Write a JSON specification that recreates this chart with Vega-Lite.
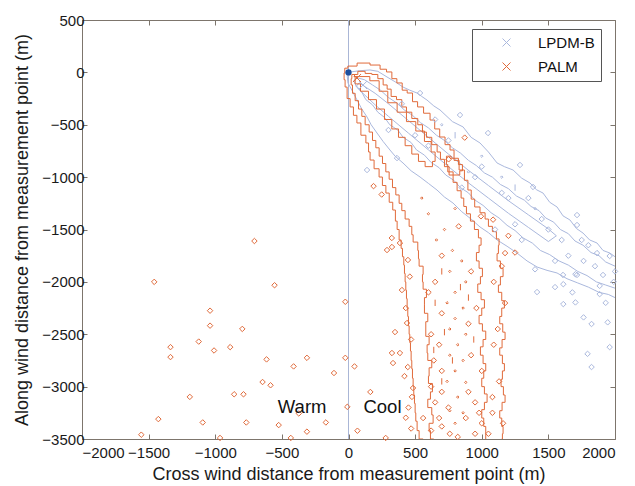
{
  "$schema": "https://vega.github.io/schema/vega-lite/v6.json",
  "width": 533,
  "height": 419,
  "autosize": {"type": "none"},
  "padding": {"left": 82, "top": 20, "right": 20, "bottom": 47},
  "background": "white",
  "config": {
    "font": "Liberation Sans",
    "view": {"stroke": "#7d756c", "strokeWidth": 1},
    "axis": {
      "grid": false,
      "domain": false,
      "tickColor": "#7d756c",
      "tickSize": -5,
      "labelFont": "Liberation Sans",
      "labelFontSize": 15,
      "labelColor": "#1a1a1a",
      "titleFont": "Liberation Sans",
      "titleFontSize": 18,
      "titleFontWeight": "normal",
      "titleColor": "#1a1a1a",
      "format": "d"
    }
  },
  "datasets": {
    "contours": [
      {"model":"PALM","id":"p1","x":560,"y":-3500},{"model":"PALM","id":"p1","x":500,"y":-3420},{"model":"PALM","id":"p1","x":530,"y":-3330},{"model":"PALM","id":"p1","x":480,"y":-3250},{"model":"PALM","id":"p1","x":520,"y":-3160},{"model":"PALM","id":"p1","x":470,"y":-3080},{"model":"PALM","id":"p1","x":510,"y":-3000},{"model":"PALM","id":"p1","x":460,"y":-2920},{"model":"PALM","id":"p1","x":500,"y":-2830},{"model":"PALM","id":"p1","x":450,"y":-2750},{"model":"PALM","id":"p1","x":490,"y":-2660},{"model":"PALM","id":"p1","x":440,"y":-2580},{"model":"PALM","id":"p1","x":480,"y":-2500},{"model":"PALM","id":"p1","x":430,"y":-2420},{"model":"PALM","id":"p1","x":470,"y":-2330},{"model":"PALM","id":"p1","x":420,"y":-2250},{"model":"PALM","id":"p1","x":460,"y":-2160},{"model":"PALM","id":"p1","x":410,"y":-2080},{"model":"PALM","id":"p1","x":450,"y":-2000},{"model":"PALM","id":"p1","x":400,"y":-1920},{"model":"PALM","id":"p1","x":440,"y":-1840},{"model":"PALM","id":"p1","x":390,"y":-1760},{"model":"PALM","id":"p1","x":420,"y":-1680},{"model":"PALM","id":"p1","x":370,"y":-1600},{"model":"PALM","id":"p1","x":390,"y":-1500},{"model":"PALM","id":"p1","x":340,"y":-1420},{"model":"PALM","id":"p1","x":364,"y":-1314},{"model":"PALM","id":"p1","x":300,"y":-1240},{"model":"PALM","id":"p1","x":311,"y":-1152},{"model":"PALM","id":"p1","x":250,"y":-1080},{"model":"PALM","id":"p1","x":259,"y":-999},{"model":"PALM","id":"p1","x":200,"y":-920},{"model":"PALM","id":"p1","x":184,"y":-837},{"model":"PALM","id":"p1","x":140,"y":-760},{"model":"PALM","id":"p1","x":161,"y":-674},{"model":"PALM","id":"p1","x":100,"y":-600},{"model":"PALM","id":"p1","x":86,"y":-483},{"model":"PALM","id":"p1","x":40,"y":-410},{"model":"PALM","id":"p1","x":34,"y":-330},{"model":"PALM","id":"p1","x":-10,"y":-250},{"model":"PALM","id":"p1","x":-11,"y":-140},{"model":"PALM","id":"p1","x":-40,"y":-70},{"model":"PALM","id":"p1","x":-26,"y":-6},{"model":"PALM","id":"p1","x":-30,"y":40},{"model":"PALM","id":"p1","x":20,"y":60},{"model":"PALM","id":"p1","x":109,"y":89},{"model":"PALM","id":"p1","x":214,"y":70},{"model":"PALM","id":"p1","x":260,"y":30},{"model":"PALM","id":"p1","x":311,"y":4},{"model":"PALM","id":"p1","x":340,"y":-60},{"model":"PALM","id":"p1","x":386,"y":-101},{"model":"PALM","id":"p1","x":420,"y":-170},{"model":"PALM","id":"p1","x":461,"y":-197},{"model":"PALM","id":"p1","x":500,"y":-280},{"model":"PALM","id":"p1","x":537,"y":-330},{"model":"PALM","id":"p1","x":590,"y":-390},{"model":"PALM","id":"p1","x":634,"y":-455},{"model":"PALM","id":"p1","x":660,"y":-540},{"model":"PALM","id":"p1","x":709,"y":-617},{"model":"PALM","id":"p1","x":740,"y":-690},{"model":"PALM","id":"p1","x":784,"y":-741},{"model":"PALM","id":"p1","x":800,"y":-840},{"model":"PALM","id":"p1","x":860,"y":-932},{"model":"PALM","id":"p1","x":880,"y":-1030},{"model":"PALM","id":"p1","x":912,"y":-1123},{"model":"PALM","id":"p1","x":930,"y":-1210},{"model":"PALM","id":"p1","x":964,"y":-1285},{"model":"PALM","id":"p1","x":1010,"y":-1340},{"model":"PALM","id":"p1","x":1040,"y":-1400},{"model":"PALM","id":"p1","x":1060,"y":-1470},{"model":"PALM","id":"p1","x":1100,"y":-1520},{"model":"PALM","id":"p1","x":1120,"y":-1590},{"model":"PALM","id":"p1","x":1140,"y":-1650},{"model":"PALM","id":"p1","x":1110,"y":-1730},{"model":"PALM","id":"p1","x":1120,"y":-1800},{"model":"PALM","id":"p1","x":1160,"y":-1870},{"model":"PALM","id":"p1","x":1160,"y":-1950},{"model":"PALM","id":"p1","x":1120,"y":-2030},{"model":"PALM","id":"p1","x":1130,"y":-2100},{"model":"PALM","id":"p1","x":1170,"y":-2180},{"model":"PALM","id":"p1","x":1170,"y":-2250},{"model":"PALM","id":"p1","x":1130,"y":-2330},{"model":"PALM","id":"p1","x":1140,"y":-2400},{"model":"PALM","id":"p1","x":1175,"y":-2480},{"model":"PALM","id":"p1","x":1175,"y":-2550},{"model":"PALM","id":"p1","x":1130,"y":-2630},{"model":"PALM","id":"p1","x":1140,"y":-2700},{"model":"PALM","id":"p1","x":1170,"y":-2780},{"model":"PALM","id":"p1","x":1170,"y":-2850},{"model":"PALM","id":"p1","x":1140,"y":-2930},{"model":"PALM","id":"p1","x":1150,"y":-3000},{"model":"PALM","id":"p1","x":1175,"y":-3080},{"model":"PALM","id":"p1","x":1175,"y":-3150},{"model":"PALM","id":"p1","x":1130,"y":-3230},{"model":"PALM","id":"p1","x":1140,"y":-3300},{"model":"PALM","id":"p1","x":1160,"y":-3380},{"model":"PALM","id":"p1","x":1160,"y":-3450},{"model":"PALM","id":"p1","x":1150,"y":-3500},

      {"model":"PALM","id":"p2","x":640,"y":-3500},{"model":"PALM","id":"p2","x":590,"y":-3420},{"model":"PALM","id":"p2","x":620,"y":-3350},{"model":"PALM","id":"p2","x":650,"y":-3270},{"model":"PALM","id":"p2","x":600,"y":-3200},{"model":"PALM","id":"p2","x":590,"y":-3120},{"model":"PALM","id":"p2","x":640,"y":-3050},{"model":"PALM","id":"p2","x":620,"y":-2970},{"model":"PALM","id":"p2","x":580,"y":-2900},{"model":"PALM","id":"p2","x":630,"y":-2820},{"model":"PALM","id":"p2","x":620,"y":-2750},{"model":"PALM","id":"p2","x":570,"y":-2680},{"model":"PALM","id":"p2","x":610,"y":-2600},{"model":"PALM","id":"p2","x":600,"y":-2520},{"model":"PALM","id":"p2","x":560,"y":-2450},{"model":"PALM","id":"p2","x":600,"y":-2380},{"model":"PALM","id":"p2","x":590,"y":-2300},{"model":"PALM","id":"p2","x":550,"y":-2220},{"model":"PALM","id":"p2","x":590,"y":-2150},{"model":"PALM","id":"p2","x":580,"y":-2070},{"model":"PALM","id":"p2","x":540,"y":-2000},{"model":"PALM","id":"p2","x":570,"y":-1930},{"model":"PALM","id":"p2","x":550,"y":-1850},{"model":"PALM","id":"p2","x":510,"y":-1780},{"model":"PALM","id":"p2","x":540,"y":-1700},{"model":"PALM","id":"p2","x":500,"y":-1620},{"model":"PALM","id":"p2","x":470,"y":-1550},{"model":"PALM","id":"p2","x":480,"y":-1470},{"model":"PALM","id":"p2","x":430,"y":-1400},{"model":"PALM","id":"p2","x":420,"y":-1320},{"model":"PALM","id":"p2","x":380,"y":-1250},{"model":"PALM","id":"p2","x":380,"y":-1170},{"model":"PALM","id":"p2","x":330,"y":-1100},{"model":"PALM","id":"p2","x":330,"y":-1020},{"model":"PALM","id":"p2","x":280,"y":-950},{"model":"PALM","id":"p2","x":280,"y":-870},{"model":"PALM","id":"p2","x":230,"y":-800},{"model":"PALM","id":"p2","x":230,"y":-720},{"model":"PALM","id":"p2","x":180,"y":-650},{"model":"PALM","id":"p2","x":180,"y":-570},{"model":"PALM","id":"p2","x":130,"y":-500},{"model":"PALM","id":"p2","x":120,"y":-420},{"model":"PALM","id":"p2","x":80,"y":-350},{"model":"PALM","id":"p2","x":70,"y":-270},{"model":"PALM","id":"p2","x":30,"y":-200},{"model":"PALM","id":"p2","x":30,"y":-120},{"model":"PALM","id":"p2","x":10,"y":-60},{"model":"PALM","id":"p2","x":40,"y":-20},{"model":"PALM","id":"p2","x":100,"y":10},{"model":"PALM","id":"p2","x":150,"y":-10},{"model":"PALM","id":"p2","x":200,"y":-20},{"model":"PALM","id":"p2","x":240,"y":-60},{"model":"PALM","id":"p2","x":280,"y":-120},{"model":"PALM","id":"p2","x":300,"y":-160},{"model":"PALM","id":"p2","x":340,"y":-230},{"model":"PALM","id":"p2","x":380,"y":-260},{"model":"PALM","id":"p2","x":420,"y":-330},{"model":"PALM","id":"p2","x":450,"y":-380},{"model":"PALM","id":"p2","x":500,"y":-440},{"model":"PALM","id":"p2","x":540,"y":-500},{"model":"PALM","id":"p2","x":570,"y":-570},{"model":"PALM","id":"p2","x":600,"y":-620},{"model":"PALM","id":"p2","x":650,"y":-690},{"model":"PALM","id":"p2","x":680,"y":-760},{"model":"PALM","id":"p2","x":700,"y":-830},{"model":"PALM","id":"p2","x":740,"y":-900},{"model":"PALM","id":"p2","x":770,"y":-980},{"model":"PALM","id":"p2","x":800,"y":-1050},{"model":"PALM","id":"p2","x":830,"y":-1130},{"model":"PALM","id":"p2","x":860,"y":-1200},{"model":"PALM","id":"p2","x":870,"y":-1280},{"model":"PALM","id":"p2","x":900,"y":-1350},{"model":"PALM","id":"p2","x":930,"y":-1420},{"model":"PALM","id":"p2","x":960,"y":-1500},{"model":"PALM","id":"p2","x":990,"y":-1580},{"model":"PALM","id":"p2","x":1000,"y":-1650},{"model":"PALM","id":"p2","x":960,"y":-1720},{"model":"PALM","id":"p2","x":960,"y":-1800},{"model":"PALM","id":"p2","x":1000,"y":-1870},{"model":"PALM","id":"p2","x":1010,"y":-1950},{"model":"PALM","id":"p2","x":970,"y":-2020},{"model":"PALM","id":"p2","x":970,"y":-2100},{"model":"PALM","id":"p2","x":1020,"y":-2170},{"model":"PALM","id":"p2","x":1020,"y":-2250},{"model":"PALM","id":"p2","x":980,"y":-2320},{"model":"PALM","id":"p2","x":980,"y":-2400},{"model":"PALM","id":"p2","x":1030,"y":-2470},{"model":"PALM","id":"p2","x":1030,"y":-2550},{"model":"PALM","id":"p2","x":990,"y":-2620},{"model":"PALM","id":"p2","x":990,"y":-2700},{"model":"PALM","id":"p2","x":1030,"y":-2780},{"model":"PALM","id":"p2","x":1030,"y":-2850},{"model":"PALM","id":"p2","x":1000,"y":-2920},{"model":"PALM","id":"p2","x":1000,"y":-3000},{"model":"PALM","id":"p2","x":1040,"y":-3070},{"model":"PALM","id":"p2","x":1040,"y":-3150},{"model":"PALM","id":"p2","x":1000,"y":-3220},{"model":"PALM","id":"p2","x":1000,"y":-3300},{"model":"PALM","id":"p2","x":1030,"y":-3380},{"model":"PALM","id":"p2","x":1030,"y":-3500},

      {"model":"PALM","id":"p3","x":40,"y":-40},{"model":"PALM","id":"p3","x":120,"y":-40},{"model":"PALM","id":"p3","x":200,"y":-80},{"model":"PALM","id":"p3","x":260,"y":-180},{"model":"PALM","id":"p3","x":330,"y":-290},{"model":"PALM","id":"p3","x":400,"y":-380},{"model":"PALM","id":"p3","x":470,"y":-470},{"model":"PALM","id":"p3","x":540,"y":-560},{"model":"PALM","id":"p3","x":600,"y":-660},{"model":"PALM","id":"p3","x":640,"y":-760},{"model":"PALM","id":"p3","x":660,"y":-850},{"model":"PALM","id":"p3","x":600,"y":-900},{"model":"PALM","id":"p3","x":550,"y":-850},{"model":"PALM","id":"p3","x":500,"y":-780},{"model":"PALM","id":"p3","x":450,"y":-700},{"model":"PALM","id":"p3","x":400,"y":-620},{"model":"PALM","id":"p3","x":350,"y":-540},{"model":"PALM","id":"p3","x":300,"y":-450},{"model":"PALM","id":"p3","x":240,"y":-350},{"model":"PALM","id":"p3","x":180,"y":-260},{"model":"PALM","id":"p3","x":120,"y":-180},{"model":"PALM","id":"p3","x":60,"y":-110},{"model":"PALM","id":"p3","x":40,"y":-40},

      {"model":"PALM","id":"p4","x":740,"y":-800},{"model":"PALM","id":"p4","x":800,"y":-820},{"model":"PALM","id":"p4","x":850,"y":-880},{"model":"PALM","id":"p4","x":860,"y":-940},{"model":"PALM","id":"p4","x":810,"y":-980},{"model":"PALM","id":"p4","x":760,"y":-950},{"model":"PALM","id":"p4","x":730,"y":-880},{"model":"PALM","id":"p4","x":740,"y":-800},

      {"model":"LPDM-B","id":"b1","x":2000,"y":-1760},{"model":"LPDM-B","id":"b1","x":1962,"y":-1725},{"model":"LPDM-B","id":"b1","x":1910,"y":-1700},{"model":"LPDM-B","id":"b1","x":1865,"y":-1629},{"model":"LPDM-B","id":"b1","x":1810,"y":-1600},{"model":"LPDM-B","id":"b1","x":1760,"y":-1534},{"model":"LPDM-B","id":"b1","x":1710,"y":-1490},{"model":"LPDM-B","id":"b1","x":1662,"y":-1409},{"model":"LPDM-B","id":"b1","x":1610,"y":-1370},{"model":"LPDM-B","id":"b1","x":1565,"y":-1285},{"model":"LPDM-B","id":"b1","x":1510,"y":-1240},{"model":"LPDM-B","id":"b1","x":1460,"y":-1152},{"model":"LPDM-B","id":"b1","x":1410,"y":-1120},{"model":"LPDM-B","id":"b1","x":1362,"y":-1056},{"model":"LPDM-B","id":"b1","x":1300,"y":-1010},{"model":"LPDM-B","id":"b1","x":1235,"y":-932},{"model":"LPDM-B","id":"b1","x":1170,"y":-900},{"model":"LPDM-B","id":"b1","x":1115,"y":-865},{"model":"LPDM-B","id":"b1","x":1050,"y":-760},{"model":"LPDM-B","id":"b1","x":987,"y":-674},{"model":"LPDM-B","id":"b1","x":920,"y":-620},{"model":"LPDM-B","id":"b1","x":860,"y":-521},{"model":"LPDM-B","id":"b1","x":780,"y":-470},{"model":"LPDM-B","id":"b1","x":687,"y":-359},{"model":"LPDM-B","id":"b1","x":640,"y":-320},{"model":"LPDM-B","id":"b1","x":589,"y":-264},{"model":"LPDM-B","id":"b1","x":550,"y":-230},{"model":"LPDM-B","id":"b1","x":514,"y":-197},{"model":"LPDM-B","id":"b1","x":460,"y":-170},{"model":"LPDM-B","id":"b1","x":409,"y":-140},{"model":"LPDM-B","id":"b1","x":350,"y":-90},{"model":"LPDM-B","id":"b1","x":289,"y":-44},{"model":"LPDM-B","id":"b1","x":220,"y":10},{"model":"LPDM-B","id":"b1","x":161,"y":23},{"model":"LPDM-B","id":"b1","x":80,"y":15},{"model":"LPDM-B","id":"b1","x":20,"y":5},{"model":"LPDM-B","id":"b1","x":-10,"y":-30},{"model":"LPDM-B","id":"b1","x":-4,"y":-101},{"model":"LPDM-B","id":"b1","x":30,"y":-180},{"model":"LPDM-B","id":"b1","x":64,"y":-264},{"model":"LPDM-B","id":"b1","x":100,"y":-350},{"model":"LPDM-B","id":"b1","x":139,"y":-426},{"model":"LPDM-B","id":"b1","x":170,"y":-500},{"model":"LPDM-B","id":"b1","x":214,"y":-579},{"model":"LPDM-B","id":"b1","x":260,"y":-660},{"model":"LPDM-B","id":"b1","x":311,"y":-741},{"model":"LPDM-B","id":"b1","x":350,"y":-800},{"model":"LPDM-B","id":"b1","x":409,"y":-865},{"model":"LPDM-B","id":"b1","x":470,"y":-940},{"model":"LPDM-B","id":"b1","x":537,"y":-999},{"model":"LPDM-B","id":"b1","x":600,"y":-1060},{"model":"LPDM-B","id":"b1","x":664,"y":-1123},{"model":"LPDM-B","id":"b1","x":720,"y":-1190},{"model":"LPDM-B","id":"b1","x":784,"y":-1247},{"model":"LPDM-B","id":"b1","x":850,"y":-1330},{"model":"LPDM-B","id":"b1","x":920,"y":-1400},{"model":"LPDM-B","id":"b1","x":987,"y":-1476},{"model":"LPDM-B","id":"b1","x":1050,"y":-1530},{"model":"LPDM-B","id":"b1","x":1115,"y":-1600},{"model":"LPDM-B","id":"b1","x":1190,"y":-1660},{"model":"LPDM-B","id":"b1","x":1265,"y":-1725},{"model":"LPDM-B","id":"b1","x":1340,"y":-1800},{"model":"LPDM-B","id":"b1","x":1415,"y":-1858},{"model":"LPDM-B","id":"b1","x":1490,"y":-1890},{"model":"LPDM-B","id":"b1","x":1565,"y":-1915},{"model":"LPDM-B","id":"b1","x":1640,"y":-1970},{"model":"LPDM-B","id":"b1","x":1720,"y":-2010},{"model":"LPDM-B","id":"b1","x":1800,"y":-2050},{"model":"LPDM-B","id":"b1","x":1880,"y":-2100},{"model":"LPDM-B","id":"b1","x":1950,"y":-2120},{"model":"LPDM-B","id":"b1","x":2000,"y":-2150},

      {"model":"LPDM-B","id":"b2","x":2000,"y":-1850},{"model":"LPDM-B","id":"b2","x":1930,"y":-1810},{"model":"LPDM-B","id":"b2","x":1880,"y":-1750},{"model":"LPDM-B","id":"b2","x":1820,"y":-1720},{"model":"LPDM-B","id":"b2","x":1760,"y":-1650},{"model":"LPDM-B","id":"b2","x":1700,"y":-1610},{"model":"LPDM-B","id":"b2","x":1650,"y":-1540},{"model":"LPDM-B","id":"b2","x":1590,"y":-1500},{"model":"LPDM-B","id":"b2","x":1540,"y":-1430},{"model":"LPDM-B","id":"b2","x":1480,"y":-1390},{"model":"LPDM-B","id":"b2","x":1430,"y":-1320},{"model":"LPDM-B","id":"b2","x":1370,"y":-1280},{"model":"LPDM-B","id":"b2","x":1320,"y":-1220},{"model":"LPDM-B","id":"b2","x":1260,"y":-1180},{"model":"LPDM-B","id":"b2","x":1200,"y":-1110},{"model":"LPDM-B","id":"b2","x":1140,"y":-1070},{"model":"LPDM-B","id":"b2","x":1080,"y":-1000},{"model":"LPDM-B","id":"b2","x":1020,"y":-960},{"model":"LPDM-B","id":"b2","x":960,"y":-890},{"model":"LPDM-B","id":"b2","x":900,"y":-840},{"model":"LPDM-B","id":"b2","x":840,"y":-770},{"model":"LPDM-B","id":"b2","x":780,"y":-720},{"model":"LPDM-B","id":"b2","x":720,"y":-650},{"model":"LPDM-B","id":"b2","x":660,"y":-600},{"model":"LPDM-B","id":"b2","x":600,"y":-530},{"model":"LPDM-B","id":"b2","x":540,"y":-480},{"model":"LPDM-B","id":"b2","x":480,"y":-410},{"model":"LPDM-B","id":"b2","x":420,"y":-360},{"model":"LPDM-B","id":"b2","x":360,"y":-290},{"model":"LPDM-B","id":"b2","x":300,"y":-240},{"model":"LPDM-B","id":"b2","x":240,"y":-170},{"model":"LPDM-B","id":"b2","x":180,"y":-120},{"model":"LPDM-B","id":"b2","x":120,"y":-70},{"model":"LPDM-B","id":"b2","x":60,"y":-50},{"model":"LPDM-B","id":"b2","x":40,"y":-80},{"model":"LPDM-B","id":"b2","x":60,"y":-140},{"model":"LPDM-B","id":"b2","x":100,"y":-190},{"model":"LPDM-B","id":"b2","x":130,"y":-260},{"model":"LPDM-B","id":"b2","x":180,"y":-310},{"model":"LPDM-B","id":"b2","x":220,"y":-380},{"model":"LPDM-B","id":"b2","x":270,"y":-430},{"model":"LPDM-B","id":"b2","x":310,"y":-500},{"model":"LPDM-B","id":"b2","x":370,"y":-550},{"model":"LPDM-B","id":"b2","x":410,"y":-620},{"model":"LPDM-B","id":"b2","x":470,"y":-670},{"model":"LPDM-B","id":"b2","x":510,"y":-740},{"model":"LPDM-B","id":"b2","x":570,"y":-790},{"model":"LPDM-B","id":"b2","x":620,"y":-860},{"model":"LPDM-B","id":"b2","x":680,"y":-910},{"model":"LPDM-B","id":"b2","x":730,"y":-980},{"model":"LPDM-B","id":"b2","x":790,"y":-1030},{"model":"LPDM-B","id":"b2","x":840,"y":-1100},{"model":"LPDM-B","id":"b2","x":900,"y":-1150},{"model":"LPDM-B","id":"b2","x":950,"y":-1220},{"model":"LPDM-B","id":"b2","x":1010,"y":-1270},{"model":"LPDM-B","id":"b2","x":1070,"y":-1340},{"model":"LPDM-B","id":"b2","x":1130,"y":-1390},{"model":"LPDM-B","id":"b2","x":1190,"y":-1460},{"model":"LPDM-B","id":"b2","x":1250,"y":-1510},{"model":"LPDM-B","id":"b2","x":1310,"y":-1580},{"model":"LPDM-B","id":"b2","x":1380,"y":-1630},{"model":"LPDM-B","id":"b2","x":1440,"y":-1700},{"model":"LPDM-B","id":"b2","x":1510,"y":-1740},{"model":"LPDM-B","id":"b2","x":1580,"y":-1800},{"model":"LPDM-B","id":"b2","x":1650,"y":-1840},{"model":"LPDM-B","id":"b2","x":1720,"y":-1900},{"model":"LPDM-B","id":"b2","x":1790,"y":-1940},{"model":"LPDM-B","id":"b2","x":1860,"y":-2000},{"model":"LPDM-B","id":"b2","x":1930,"y":-2030},{"model":"LPDM-B","id":"b2","x":2000,"y":-2060},

      {"model":"LPDM-B","id":"b3","x":80,"y":-100},{"model":"LPDM-B","id":"b3","x":200,"y":-200},{"model":"LPDM-B","id":"b3","x":300,"y":-300},{"model":"LPDM-B","id":"b3","x":450,"y":-460},{"model":"LPDM-B","id":"b3","x":600,"y":-620},{"model":"LPDM-B","id":"b3","x":750,"y":-780},{"model":"LPDM-B","id":"b3","x":900,"y":-935},{"model":"LPDM-B","id":"b3","x":1050,"y":-1080},{"model":"LPDM-B","id":"b3","x":1200,"y":-1225},{"model":"LPDM-B","id":"b3","x":1350,"y":-1360},{"model":"LPDM-B","id":"b3","x":1500,"y":-1495},{"model":"LPDM-B","id":"b3","x":1560,"y":-1560},{"model":"LPDM-B","id":"b3","x":1500,"y":-1615},{"model":"LPDM-B","id":"b3","x":1350,"y":-1480},{"model":"LPDM-B","id":"b3","x":1200,"y":-1345},{"model":"LPDM-B","id":"b3","x":1050,"y":-1200},{"model":"LPDM-B","id":"b3","x":900,"y":-1055},{"model":"LPDM-B","id":"b3","x":750,"y":-900},{"model":"LPDM-B","id":"b3","x":600,"y":-740},{"model":"LPDM-B","id":"b3","x":450,"y":-580},{"model":"LPDM-B","id":"b3","x":300,"y":-420},{"model":"LPDM-B","id":"b3","x":200,"y":-310},{"model":"LPDM-B","id":"b3","x":100,"y":-190},{"model":"LPDM-B","id":"b3","x":60,"y":-130},{"model":"LPDM-B","id":"b3","x":80,"y":-100}
    ],
    "rings": [
      {"model":"LPDM-B","x":537,"y":-197},{"model":"LPDM-B","x":837,"y":-407},{"model":"LPDM-B","x":364,"y":-818},{"model":"LPDM-B","x":139,"y":-932},{"model":"LPDM-B","x":1047,"y":-579},{"model":"LPDM-B","x":1287,"y":-884},{"model":"LPDM-B","x":1385,"y":-1094},{"model":"LPDM-B","x":1715,"y":-1362},{"model":"LPDM-B","x":1715,"y":-1457},{"model":"LPDM-B","x":1865,"y":-1725},{"model":"LPDM-B","x":1610,"y":-1934},{"model":"LPDM-B","x":1715,"y":-1934},{"model":"LPDM-B","x":1910,"y":-1934},{"model":"LPDM-B","x":1415,"y":-2097},{"model":"LPDM-B","x":1400,"y":-1880},{"model":"LPDM-B","x":1612,"y":-2022},{"model":"LPDM-B","x":1703,"y":-1927},{"model":"LPDM-B","x":1764,"y":-1800},{"model":"LPDM-B","x":1612,"y":-2212},{"model":"LPDM-B","x":1703,"y":-2196},{"model":"LPDM-B","x":1764,"y":-2339},{"model":"LPDM-B","x":1824,"y":-2402},{"model":"LPDM-B","x":1945,"y":-2386},{"model":"LPDM-B","x":1794,"y":-2687},{"model":"LPDM-B","x":1824,"y":-2813},{"model":"LPDM-B","x":1960,"y":-2623},{"model":"LPDM-B","x":1960,"y":-1753},{"model":"LPDM-B","x":1885,"y":-2038},{"model":"LPDM-B","x":1885,"y":-2117},{"model":"LPDM-B","x":600,"y":-700},{"model":"LPDM-B","x":950,"y":-1000},{"model":"LPDM-B","x":1200,"y":-1200},{"model":"LPDM-B","x":1500,"y":-1500},{"model":"LPDM-B","x":1300,"y":-1600},{"model":"LPDM-B","x":1650,"y":-1750},{"model":"LPDM-B","x":1100,"y":-1500},{"model":"LPDM-B","x":1800,"y":-1650},{"model":"LPDM-B","x":1990,"y":-2000},
      {"model":"LPDM-B","x":400,"y":-300},{"model":"LPDM-B","x":650,"y":-450},{"model":"LPDM-B","x":750,"y":-650},{"model":"LPDM-B","x":1000,"y":-900},{"model":"LPDM-B","x":1150,"y":-1150},{"model":"LPDM-B","x":1350,"y":-1200},{"model":"LPDM-B","x":1450,"y":-1400},{"model":"LPDM-B","x":1600,"y":-1600},{"model":"LPDM-B","x":1750,"y":-1600},{"model":"LPDM-B","x":1850,"y":-1850},{"model":"LPDM-B","x":2000,"y":-1900},{"model":"LPDM-B","x":1550,"y":-1800},{"model":"LPDM-B","x":1250,"y":-1450},{"model":"LPDM-B","x":850,"y":-1100},{"model":"LPDM-B","x":500,"y":-600},{"model":"LPDM-B","x":300,"y":-550},{"model":"LPDM-B","x":1930,"y":-2200},{"model":"LPDM-B","x":1680,"y":-2100},{"model":"LPDM-B","x":1550,"y":-2050},
      {"model":"PALM","x":-1458,"y":-2000},{"model":"PALM","x":-555,"y":-2032},{"model":"PALM","x":-706,"y":-1610},{"model":"PALM","x":-24,"y":-2190},{"model":"PALM","x":-1039,"y":-2275},{"model":"PALM","x":-1039,"y":-2418},{"model":"PALM","x":-797,"y":-2449},{"model":"PALM","x":-1124,"y":-2570},{"model":"PALM","x":-1336,"y":-2623},{"model":"PALM","x":-1336,"y":-2718},{"model":"PALM","x":-888,"y":-2623},{"model":"PALM","x":-1009,"y":-2655},{"model":"PALM","x":-615,"y":-2740},{"model":"PALM","x":-312,"y":-2725},{"model":"PALM","x":-24,"y":-2725},{"model":"PALM","x":-412,"y":-2807},{"model":"PALM","x":-109,"y":-2870},{"model":"PALM","x":45,"y":-2807},{"model":"PALM","x":-645,"y":-2956},{"model":"PALM","x":-585,"y":-2987},{"model":"PALM","x":-1191,"y":-3098},{"model":"PALM","x":-858,"y":-3073},{"model":"PALM","x":-788,"y":-3073},{"model":"PALM","x":164,"y":-3051},{"model":"PALM","x":-1427,"y":-3310},{"model":"PALM","x":-1094,"y":-3342},{"model":"PALM","x":-767,"y":-3342},{"model":"PALM","x":-524,"y":-3367},{"model":"PALM","x":-312,"y":-3430},{"model":"PALM","x":-170,"y":-3342},{"model":"PALM","x":67,"y":-3421},{"model":"PALM","x":-373,"y":-3256},{"model":"PALM","x":-1555,"y":-3459},{"model":"PALM","x":-964,"y":-3490},{"model":"PALM","x":-433,"y":-3490},{"model":"PALM","x":279,"y":-3490},{"model":"PALM","x":-9,"y":-3193},
      {"model":"PALM","x":289,"y":-1696},{"model":"PALM","x":326,"y":-1667},{"model":"PALM","x":446,"y":-1791},{"model":"PALM","x":401,"y":-2078},{"model":"PALM","x":439,"y":-2393},{"model":"PALM","x":349,"y":-2479},{"model":"PALM","x":326,"y":-2679},{"model":"PALM","x":386,"y":-2679},{"model":"PALM","x":334,"y":-2775},{"model":"PALM","x":484,"y":-3013},{"model":"PALM","x":1175,"y":-2202},{"model":"PALM","x":1175,"y":-1725},{"model":"PALM","x":445,"y":-2813},{"model":"PALM","x":476,"y":-3098},{"model":"PALM","x":430,"y":-3297},
      {"model":"PALM","x":188,"y":-1086},{"model":"PALM","x":249,"y":-1166},{"model":"PALM","x":751,"y":-830},{"model":"PALM","x":872,"y":-623},{"model":"PALM","x":994,"y":-1374},{"model":"PALM","x":1085,"y":-1406},{"model":"PALM","x":827,"y":-1470},{"model":"PALM","x":325,"y":-1581},{"model":"PALM","x":386,"y":-1629},{"model":"PALM","x":1250,"y":-1720},{"model":"PALM","x":1200,"y":-1560},
      {"model":"PALM","x":620,"y":-3000},{"model":"PALM","x":700,"y":-3050},{"model":"PALM","x":900,"y":-3050},{"model":"PALM","x":650,"y":-3150},{"model":"PALM","x":750,"y":-3200},{"model":"PALM","x":950,"y":-3150},{"model":"PALM","x":680,"y":-3300},{"model":"PALM","x":880,"y":-3300},{"model":"PALM","x":1000,"y":-3350},{"model":"PALM","x":620,"y":-3420},{"model":"PALM","x":760,"y":-3450},{"model":"PALM","x":950,"y":-3450},{"model":"PALM","x":1080,"y":-3250},{"model":"PALM","x":1080,"y":-3100},{"model":"PALM","x":700,"y":-2300},{"model":"PALM","x":900,"y":-2400},{"model":"PALM","x":680,"y":-2600},{"model":"PALM","x":920,"y":-2700},{"model":"PALM","x":700,"y":-2850},{"model":"PALM","x":650,"y":-2000},{"model":"PALM","x":920,"y":-1900},{"model":"PALM","x":700,"y":-1750},{"model":"PALM","x":1090,"y":-2000},{"model":"PALM","x":1090,"y":-2600},
      {"model":"PALM","x":460,"y":-1950},{"model":"PALM","x":430,"y":-2250},{"model":"PALM","x":470,"y":-2550},{"model":"PALM","x":420,"y":-2900},{"model":"PALM","x":450,"y":-3200},{"model":"PALM","x":470,"y":-3400},{"model":"PALM","x":1150,"y":-1850},{"model":"PALM","x":1120,"y":-2450},{"model":"PALM","x":1130,"y":-2950},{"model":"PALM","x":1160,"y":-3350},{"model":"PALM","x":600,"y":-2100},{"model":"PALM","x":960,"y":-2250},{"model":"PALM","x":620,"y":-2500},{"model":"PALM","x":1000,"y":-2850},{"model":"PALM","x":640,"y":-2750},{"model":"PALM","x":980,"y":-3250},{"model":"PALM","x":560,"y":-3300},{"model":"PALM","x":700,"y":-3380},{"model":"PALM","x":820,"y":-3480},{"model":"PALM","x":1050,"y":-3450}
    ],
    "dots": [
      {"model":"PALM","x":780,"y":-1700},{"model":"PALM","x":850,"y":-1800},{"model":"PALM","x":760,"y":-1900},{"model":"PALM","x":880,"y":-2000},{"model":"PALM","x":800,"y":-2100},{"model":"PALM","x":740,"y":-2200},{"model":"PALM","x":860,"y":-2250},{"model":"PALM","x":800,"y":-2350},{"model":"PALM","x":760,"y":-2450},{"model":"PALM","x":880,"y":-2500},{"model":"PALM","x":820,"y":-2600},{"model":"PALM","x":760,"y":-2700},{"model":"PALM","x":860,"y":-2750},{"model":"PALM","x":800,"y":-2850},{"model":"PALM","x":740,"y":-2950},{"model":"PALM","x":880,"y":-2960},{"model":"PALM","x":820,"y":-3100},{"model":"PALM","x":760,"y":-3230},{"model":"PALM","x":860,"y":-3250},{"model":"PALM","x":800,"y":-3350},{"model":"PALM","x":660,"y":-1600},{"model":"PALM","x":720,"y":-1500},{"model":"PALM","x":600,"y":-1350},{"model":"PALM","x":550,"y":-1200},{"model":"PALM","x":800,"y":-1300},
      {"model":"LPDM-B","x":700,"y":-500},{"model":"LPDM-B","x":1000,"y":-800},{"model":"LPDM-B","x":1150,"y":-1000},{"model":"LPDM-B","x":1400,"y":-1300},{"model":"LPDM-B","x":900,"y":-950}
    ],
    "dashes": [
      {"model":"PALM","x":700,"y":-1900},{"model":"PALM","x":650,"y":-2200},{"model":"PALM","x":840,"y":-2050},{"model":"PALM","x":720,"y":-2480},{"model":"PALM","x":900,"y":-2150},{"model":"PALM","x":780,"y":-2750},{"model":"PALM","x":640,"y":-2650},{"model":"PALM","x":940,"y":-2550},{"model":"PALM","x":700,"y":-2950},
      {"model":"LPDM-B","x":1250,"y":-1100},{"model":"LPDM-B","x":800,"y":-600}
    ],
    "peaks": [
      {"model":"LPDM-B","x":109,"y":-121},
      {"model":"PALM","x":64,"y":-54}
    ],
    "origin": [{"x":0,"y":0}],
    "labels": [
      {"label":"Warm","x":-348,"y":-3193},
      {"label":"Cool","x":255,"y":-3193}
    ]
  },
  "resolve": {"axis": {"x": "independent", "y": "independent"}},
  "layer": [
    {
      "data": {"name": "origin"},
      "mark": {"type": "rule", "color": "#aab6d6", "strokeWidth": 1},
      "encoding": {
        "x": {"field": "x", "type": "quantitative", "scale": {"domain": [-2000, 2000], "nice": false},
              "axis": {"orient": "top", "labels": false, "title": null, "values": [-2000,-1500,-1000,-500,0,500,1000,1500,2000]}}
      }
    },
    {
      "data": {"name": "contours"},
      "transform": [{"filter": "datum.model === 'LPDM-B'"}],
      "mark": {"type": "line", "strokeWidth": 1, "clip": true, "interpolate": "linear"},
      "encoding": {
        "x": {"field": "x", "type": "quantitative", "scale": {"domain": [-2000, 2000], "nice": false},
              "axis": {"orient": "bottom", "values": [-2000,-1500,-1000,-500,0,500,1000,1500,2000], "title": "Cross wind distance from measurement point (m)", "labelPadding": 11, "titlePadding": 5}},
        "y": {"field": "y", "type": "quantitative", "scale": {"domain": [-3500, 500], "nice": false},
              "axis": {"orient": "left", "values": [-3500,-3000,-2500,-2000,-1500,-1000,-500,0,500], "title": "Along wind distance from measurement point (m)", "labelPadding": 3, "titlePadding": 10}},
        "detail": {"field": "id"},
        "order": {"value": null},
        "stroke": {"field": "model", "type": "nominal", "scale": {"range": ["#aab8dd", "#e06a3a"]}, "legend": null}
      }
    },
    {
      "data": {"name": "contours"},
      "transform": [{"filter": "datum.model === 'PALM'"}],
      "mark": {"type": "line", "strokeWidth": 1, "clip": true, "interpolate": "step"},
      "encoding": {
        "x": {"field": "x", "type": "quantitative", "axis": null},
        "y": {"field": "y", "type": "quantitative", "axis": null},
        "detail": {"field": "id"},
        "order": {"value": null},
        "stroke": {"field": "model", "type": "nominal", "legend": null}
      }
    },
    {
      "data": {"name": "rings"},
      "mark": {"type": "point", "shape": "diamond", "size": 30, "filled": false, "strokeWidth": 1, "opacity": 1},
      "encoding": {
        "x": {"field": "x", "type": "quantitative", "axis": null},
        "y": {"field": "y", "type": "quantitative", "axis": {"orient": "right", "labels": false, "title": null, "values": [-3500,-3000,-2500,-2000,-1500,-1000,-500,0,500]}},
        "stroke": {"field": "model", "type": "nominal", "legend": null}
      }
    },
    {
      "data": {"name": "dots"},
      "mark": {"type": "point", "shape": "diamond", "size": 6, "filled": false, "strokeWidth": 1, "opacity": 1},
      "encoding": {
        "x": {"field": "x", "type": "quantitative", "axis": null},
        "y": {"field": "y", "type": "quantitative", "axis": null},
        "stroke": {"field": "model", "type": "nominal", "legend": null}
      }
    },
    {
      "data": {"name": "dashes"},
      "mark": {"type": "point", "shape": "stroke", "size": 40, "angle": 90, "filled": false, "strokeWidth": 1, "opacity": 1},
      "encoding": {
        "x": {"field": "x", "type": "quantitative", "axis": null},
        "y": {"field": "y", "type": "quantitative", "axis": null},
        "stroke": {"field": "model", "type": "nominal", "legend": null}
      }
    },
    {
      "data": {"name": "peaks"},
      "mark": {"type": "point", "shape": "M-1,-1L1,1M-1,1L1,-1", "size": 64, "filled": false, "strokeWidth": 1, "opacity": 1},
      "encoding": {
        "x": {"field": "x", "type": "quantitative", "axis": null},
        "y": {"field": "y", "type": "quantitative", "axis": null},
        "color": {"field": "model", "type": "nominal", "title": null,
                  "scale": {"domain": ["LPDM-B", "PALM"], "range": ["#aab8dd", "#e06a3a"]},
                  "legend": {"orient": "none", "legendX": 390, "legendY": 9, "symbolType": "M-1,-1L1,1M-1,1L1,-1", "symbolSize": 64, "symbolStrokeWidth": 1, "symbolFillColor": "transparent",
                             "labelFont": "Liberation Sans", "labelFontSize": 15, "labelColor": "#111", "labelOffset": 24, "symbolOffset": 21,
                             "padding": 6, "rowPadding": 8, "strokeColor": "#555", "fillColor": "white"}}
      }
    },
    {
      "data": {"name": "origin"},
      "mark": {"type": "point", "shape": "circle", "size": 40, "filled": true, "color": "#1d4f9e", "opacity": 1},
      "encoding": {
        "x": {"field": "x", "type": "quantitative", "axis": null},
        "y": {"field": "y", "type": "quantitative", "axis": null}
      }
    },
    {
      "data": {"name": "labels"},
      "mark": {"type": "text", "font": "Liberation Sans", "fontSize": 18.5, "color": "#111", "align": "center", "baseline": "middle"},
      "encoding": {
        "x": {"field": "x", "type": "quantitative", "axis": null},
        "y": {"field": "y", "type": "quantitative", "axis": null},
        "text": {"field": "label"}
      }
    }
  ]
}
